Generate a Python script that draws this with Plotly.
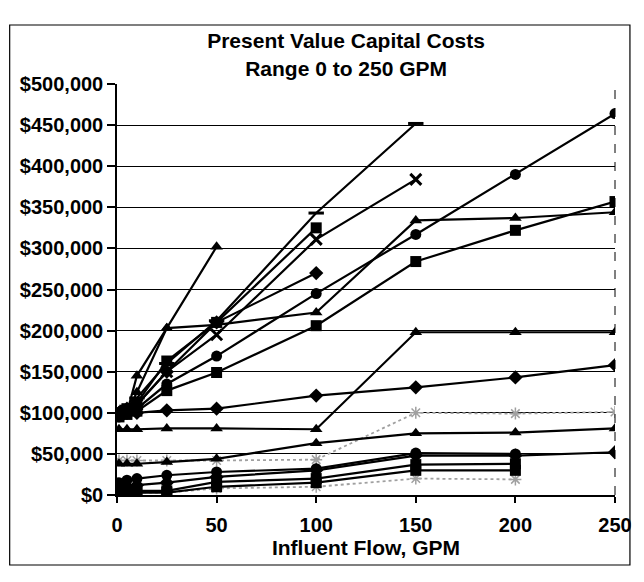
import plotly.graph_objects as go

flow = [1, 5, 10, 25, 50, 100, 150, 200, 250]

# present value capital costs, $
tri_steep = [95000, 100000, 145000, 203000, 302000]
tri_upper = [95000, 100000, 125000, 203000, 207000, 222000, 334000, 337000, 344000]
dash_top = [100000, 108000, 118000, 160000, 212000, 343000, 452000]
sq_upper = [100000, 105000, 112000, 163000, 210000, 325000]
x_series = [98000, 103000, 110000, 150000, 195000, 311000, 384000]
dia_upper = [100000, 105000, 110000, 150000, 210000, 270000]
circ_upper = [95000, 100000, 105000, 135000, 169000, 245000, 317000, 390000, 464000]
sq_mid = [95000, 98000, 102000, 127000, 149000, 206000, 284000, 322000, 357000]
tri_jump = [80000, 80000, 80000, 81000, 81000, 80000, 198000, 198000, 198000]
dia_mid = [100000, 100000, 100000, 103000, 105000, 121000, 131000, 143000, 158000]
tri_low = [38000, 38000, 38000, 40000, 44000, 63000, 75000, 76000, 81000]
star_upper = [42000, 42000, 42000, 42000, 42000, 43000, 100000, 99000, 101000]
circ_low = [15000, 18000, 20000, 24000, 28000, 32000, 51000, 50000]
dia_low = [8000, 10000, 12000, 15000, 22000, 30000, 48000, 48000, 52000]
sq_low = [5000, 5000, 5000, 5000, 16000, 20000, 37000, 38000]
sq_bottom = [3000, 3000, 3000, 3000, 10000, 15000, 30000, 30000]
star_low = [3000, 3000, 3000, 3000, 8000, 10000, 20000, 19000]

x_ticks = [0, 50, 100, 150, 200, 250]

FONT = "Liberation Sans, Arial, sans-serif"

series = [
    (tri_steep, "triangle-up"),
    (tri_upper, "triangle-up"),
    (dash_top, "line-ew-open"),
    (sq_upper, "square"),
    (x_series, "x-thin-open"),
    (dia_upper, "diamond"),
    (circ_upper, "circle"),
    (sq_mid, "square"),
    (tri_jump, "triangle-up"),
    (dia_mid, "diamond"),
    (tri_low, "triangle-up"),
    (circ_low, "circle"),
    (dia_low, "diamond"),
    (sq_low, "square"),
    (sq_bottom, "square"),
]

fig = go.Figure()

for vals in [star_upper, star_low]:
    fig.add_trace(go.Scatter(
        x=flow[:len(vals)], y=vals, mode="lines+markers",
        line=dict(color="#a0a0a0", width=1.8, dash="dot"),
        marker=dict(symbol="asterisk-open", size=10,
                    line=dict(color="#909090", width=1.5)),
    ))

for vals, sym in series:
    if sym.endswith("-open"):
        mk = dict(symbol=sym, size=11, color="black",
                  line=dict(color="black", width=3))
    else:
        mk = dict(symbol=sym, size=11, color="black",
                  line=dict(color="black", width=0))
    fig.add_trace(go.Scatter(
        x=flow[:len(vals)], y=vals, mode="lines+markers",
        line=dict(color="black", width=2.2),
        marker=mk,
    ))

fig.update_layout(
    width=644, height=582,
    paper_bgcolor="white", plot_bgcolor="white",
    showlegend=False,
    margin=dict(l=117, r=19, t=84, b=87),
    font=dict(family=FONT, color="black"),
    title=dict(
        text="<b>Present Value Capital Costs<br>Range 0 to 250 GPM</b>",
        x=0.46, xref="paper", xanchor="center",
        y=0.917, yanchor="middle",
        font=dict(size=21, family=FONT, color="black"),
    ),
    shapes=[
        dict(type="rect", xref="paper", yref="paper",
             x0=-0.2155, x1=1.03, y0=-0.1703, y1=1.1436,
             line=dict(color="black", width=1.2)),
        dict(type="line", xref="paper", yref="paper",
             x0=1, x1=1, y0=0, y1=1,
             line=dict(color="black", width=1, dash="dash")),
    ],
)

fig.update_xaxes(
    range=[0, 250], tickvals=x_ticks, showgrid=False, zeroline=False,
    showline=True, linecolor="black", linewidth=1.5,
    ticks="outside", ticklen=6, tickcolor="black", tickwidth=1.5,
    ticklabelstandoff=5,
    tickfont=dict(size=20, family=FONT, color="black", weight="bold"),
    title=dict(text="<b>Influent Flow, GPM</b>", standoff=2,
               font=dict(size=21, family=FONT, color="black")),
)

fig.update_yaxes(
    range=[0, 500000], dtick=50000, tickprefix="$", tickformat=",d",
    showgrid=True, gridcolor="black", gridwidth=1.3, zeroline=False,
    showline=True, linecolor="black", linewidth=1.5,
    ticks="outside", ticklen=8, tickcolor="black", tickwidth=1.5,
    tickfont=dict(size=20, family=FONT, color="black", weight="bold"),
)

fig.write_html(
    "out.html",
    config={"displayModeBar": False},
    post_script="document.body.style.margin='0';document.body.style.overflow='hidden';",
)
